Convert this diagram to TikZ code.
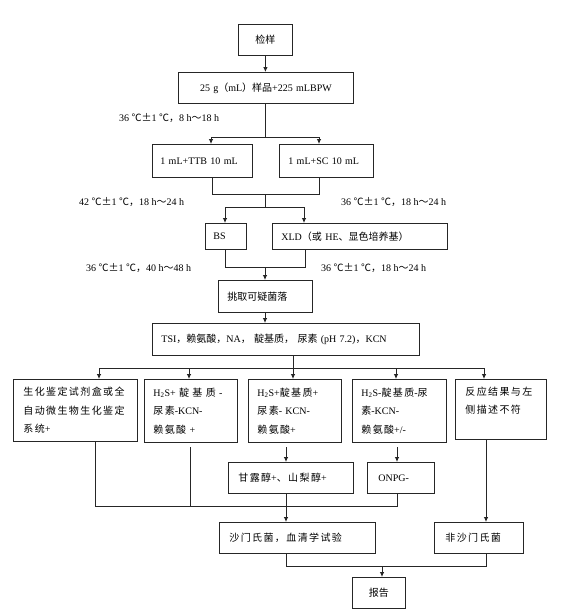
\documentclass[tikz,border=0pt]{standalone}
\usepackage{fontspec}
\setmainfont{Liberation Serif}
\newfontfamily\zhfont{Noto Sans CJK SC}
\newfontfamily\zhwide[LetterSpace=14]{Noto Sans CJK SC}
\newcommand\zh[1]{{\zhfont #1}}
\newcommand\zw[1]{{\zhwide #1}}
\usetikzlibrary{arrows.meta}
\begin{document}
\begin{tikzpicture}[x=1pt,y=-1pt,
  box/.style={draw=black!85, line width=0.8pt, anchor=north west, align=left,
    inner ysep=0pt, font=\fontsize{10}{18.5}\selectfont},
  cbox/.style={box, align=center},
  lbl/.style={anchor=west, inner sep=0pt, font=\fontsize{10}{12}\selectfont},
  line/.style={draw=black!85, line width=0.8pt},
  arr/.style={line, -{Latex[length=5pt,width=4.5pt]}}]
\useasboundingbox (0,0) rectangle (576,613);
\fill[white] (0,0) rectangle (576,613);

% boxes
\node[cbox, text width=46pt, inner xsep=4pt, minimum height=31pt] (jy) at (238,24) {\zh{检样}};
\node[cbox, text width=167pt, inner xsep=4pt, minimum height=31pt] (lbpw) at (178,72) {25 g\zh{（}mL\zh{）样品}+225 mLBPW};
\node[box, text width=84pt, inner xsep=8pt, minimum height=33pt] (ttb) at (152,144) {1 mL+TTB 10 mL};
\node[box, text width=76pt, inner xsep=9pt, minimum height=33pt] (sc) at (279,144) {1 mL+SC 10 mL};
\node[box, text width=25pt, inner xsep=8pt, minimum height=26pt] (bs) at (205,223) {BS};
\node[box, text width=157pt, inner xsep=9pt, minimum height=26pt] (xld) at (272,223) {XLD\zh{（或} HE\zh{、显色培养基）}};
\node[box, text width=76pt, inner xsep=9pt, minimum height=32pt] (pick) at (218,280) {\zh{挑取可疑菌落}};
\node[box, text width=249pt, inner xsep=9pt, minimum height=32pt] (tsi) at (152,323) {TSI\zh{，赖氨酸，}NA\zh{，} \zh{靛基质，} \zh{尿素} (pH 7.2)\zh{，}KCN};

\node[box, text width=104pt, inner xsep=10pt, minimum height=62pt] (bA) at (13,379)
  {\mbox{\zw{生化鉴定试剂盒或全}}\\\mbox{\zw{自动微生物生化鉴定}}\\\mbox{\zw{系统}+}};
\node[box, text width=75pt, inner xsep=9pt, minimum height=63pt] (bB) at (144,379)
  {\mbox{H\textsubscript{2}S+ \zw{靛 基 质} -}\\\mbox{\zw{尿素}-KCN-}\\\mbox{\zw{赖氨酸} +}};
\node[box, text width=75pt, inner xsep=9pt, minimum height=63pt] (bC) at (248,379)
  {\mbox{H\textsubscript{2}S+\zw{靛基质}+}\\\mbox{\zw{尿素}- KCN-}\\\mbox{\zw{赖氨酸}+}};
\node[box, text width=76pt, inner xsep=9pt, minimum height=63pt] (bD) at (352,379)
  {\mbox{H\textsubscript{2}S-\zw{靛基质}-\zw{尿}}\\\mbox{\zw{素}-KCN-}\\\mbox{\zw{赖氨酸}+/-}};
\node[box, text width=71pt, inner xsep=10pt, minimum height=60pt] (bE) at (455,379)
  {\mbox{\zw{反应结果与左}}\\\mbox{\zw{侧描述不符}}\\\mbox{~}};

\node[box, text width=105pt, inner xsep=10pt, minimum height=31pt] (gl) at (228,462) {\zw{甘露醇}+\zw{、山梨醇}+};
\node[box, text width=45pt, inner xsep=11pt, minimum height=31pt] (onpg) at (367,462) {ONPG-};
\node[box, text width=136pt, inner xsep=10pt, minimum height=31pt] (sm) at (219,522) {\zw{沙门氏菌，血清学试验}};
\node[box, text width=67pt, inner xsep=11pt, minimum height=31pt] (fsm) at (434,522) {\zw{非沙门氏菌}};
\node[cbox, text width=45pt, inner xsep=4pt, minimum height=31pt] (bg) at (352,577) {\zh{报告}};

% labels
\node[lbl] (l1) at (119,118) {36 \zh{℃±}1 \zh{℃，}8 h\zh{～}18 h};
\node[lbl] (l2) at (79,202) {42 \zh{℃±}1 \zh{℃，}18 h\zh{～}24 h};
\node[lbl] (l3) at (341,202) {36 \zh{℃±}1 \zh{℃，}18 h\zh{～}24 h};
\node[lbl] (l4) at (86,268) {36 \zh{℃±}1 \zh{℃，}40 h\zh{～}48 h};
\node[lbl] (l5) at (321,268) {36 \zh{℃±}1 \zh{℃，}18 h\zh{～}24 h};

% junction coordinates
\coordinate (s1) at (265,137);
\coordinate (s1l) at (211,137);
\coordinate (s1r) at (319,137);
\coordinate (m1l) at (212,194);
\coordinate (m1r) at (319,194);
\coordinate (m1) at (265,194);
\coordinate (s2) at (265,207);
\coordinate (s2l) at (225,207);
\coordinate (s2r) at (304,207);
\coordinate (m2l) at (225,267);
\coordinate (m2r) at (305,267);
\coordinate (m2) at (265,267);
\coordinate (s3) at (293,368);
\coordinate (s3l) at (99,368);
\coordinate (s3b) at (189,368);
\coordinate (s3d) at (396,368);
\coordinate (s3r) at (484,368);
\coordinate (m3l) at (95,506);
\coordinate (m3b) at (190,506);
\coordinate (m3g) at (286,506);
\coordinate (m3r) at (397,506);
\coordinate (b0) at (190,447);
\coordinate (c0) at (286,447);
\coordinate (d0) at (397,447);
\coordinate (e0) at (486,447);
\coordinate (m4l) at (286,566);
\coordinate (m4r) at (486,566);
\coordinate (m4) at (382,566);

% connectors
\draw[arr] (jy.south) -- (jy.south |- lbpw.north);
\draw[line] (s1 |- lbpw.south) -- (s1);
\draw[line] (s1l) -- (s1r);
\draw[arr] (s1l) -- (s1l |- ttb.north);
\draw[arr] (s1r) -- (s1r |- sc.north);

\draw[line] (m1l |- ttb.south) -- (m1l) -- (m1r) -- (m1r |- sc.south);
\draw[line] (m1) -- (s2);
\draw[line] (s2l) -- (s2r);
\draw[arr] (s2l) -- (s2l |- bs.north);
\draw[arr] (s2r) -- (s2r |- xld.north);

\draw[line] (m2l |- bs.south) -- (m2l) -- (m2r) -- (m2r |- xld.south);
\draw[arr] (m2) -- (m2 |- pick.north);
\draw[arr] (m2 |- pick.south) -- (m2 |- tsi.north);

\draw[line] (s3 |- tsi.south) -- (s3);
\draw[line] (s3l) -- (s3r);
\draw[arr] (s3l) -- (s3l |- bA.north);
\draw[arr] (s3b) -- (s3b |- bB.north);
\draw[arr] (s3) -- (s3 |- bC.north);
\draw[arr] (s3d) -- (s3d |- bD.north);
\draw[arr] (s3r) -- (s3r |- bE.north);

\draw[line] (m3l |- bA.south) -- (m3l) -- (m3r) -- (m3r |- onpg.south);
\draw[line] (b0) -- (m3b);
\draw[arr] (c0) -- (c0 |- gl.north);
\draw[arr] (d0) -- (d0 |- onpg.north);
\draw[arr] (m3g |- gl.south) -- (m3g |- sm.north);
\draw[arr] (e0 |- bE.south) -- (e0 |- fsm.north);

\draw[line] (m4l |- sm.south) -- (m4l) -- (m4r) -- (m4r |- fsm.south);
\draw[arr] (m4) -- (m4 |- bg.north);
\end{tikzpicture}
\end{document}
